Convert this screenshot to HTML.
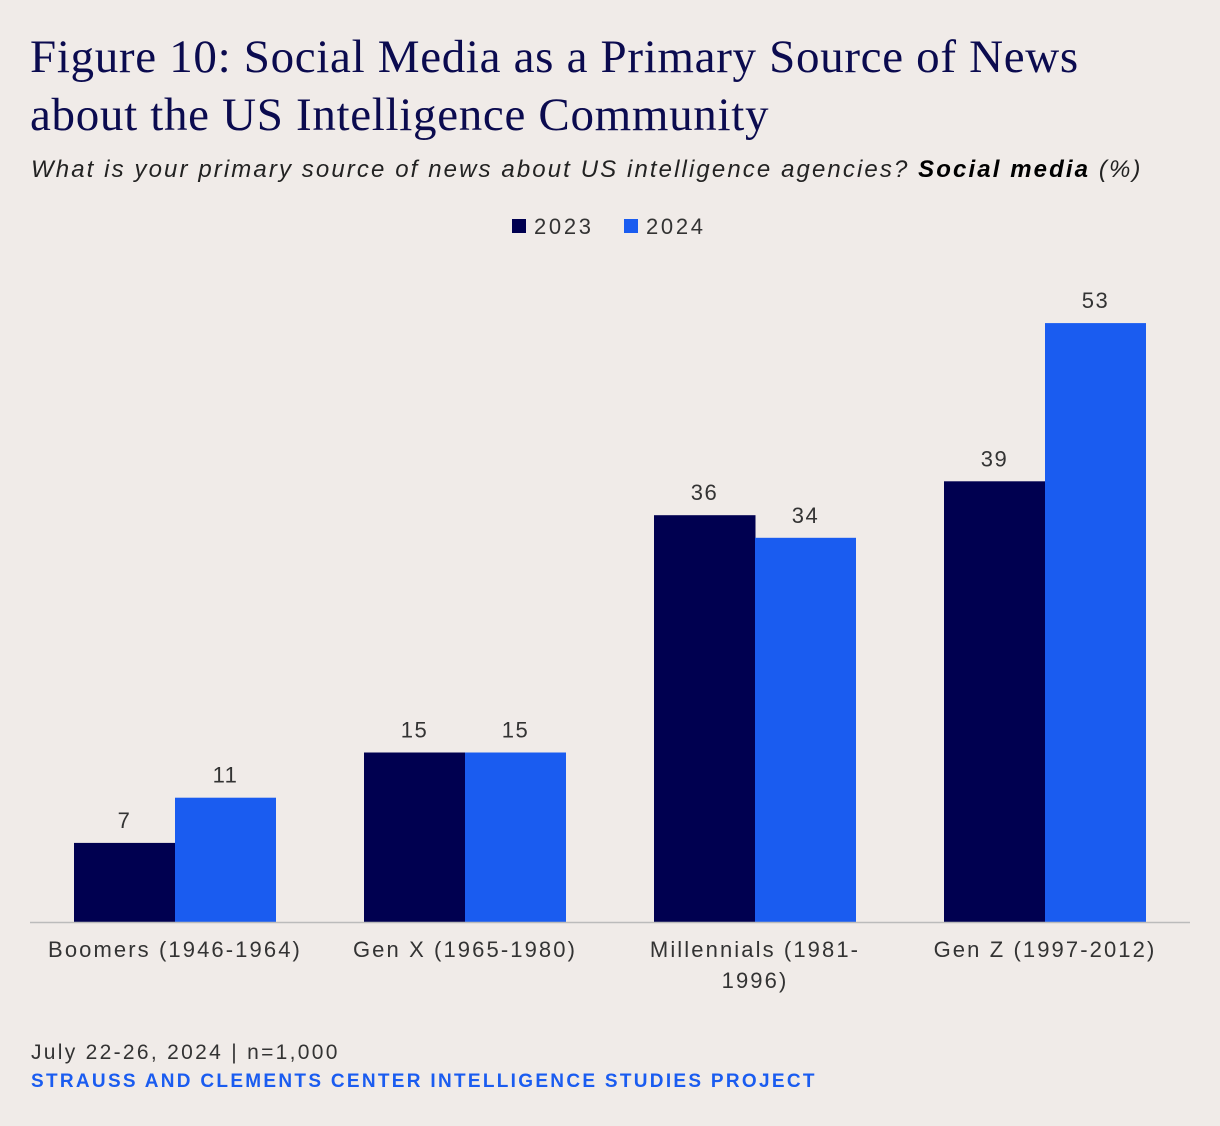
<!DOCTYPE html>
<html><head><meta charset="utf-8"><style>
body{margin:0;background:#f0ebe8;width:1220px;height:1126px;overflow:hidden;font-family:"Liberation Sans",sans-serif;}
.t{position:absolute;white-space:nowrap}
</style></head><body>
<div class="t" style="left:30px;top:28px;font-family:'Liberation Serif',serif;font-size:47px;letter-spacing:0.68px;line-height:58px;color:#0b0b4f;">Figure 10: Social Media as a Primary Source of News<br>about the US Intelligence Community</div>
<div class="t" style="left:31px;top:156px;font-size:24px;letter-spacing:2.1px;font-style:italic;color:#222;">What is your primary source of news about US intelligence agencies? <b style="color:#000">Social media</b> (%)</div>
<svg id="c" width="1220" height="1126" style="position:absolute;left:0;top:0"></svg>
<div class="t" style="left:31px;top:1041px;font-size:21px;letter-spacing:2.3px;color:#333;">July 22-26, 2024 | n=1,000</div>
<div class="t" style="left:31px;top:1071px;font-size:19px;font-weight:bold;color:#1a5cf0;letter-spacing:2.3px;">STRAUSS AND CLEMENTS CENTER INTELLIGENCE STUDIES PROJECT</div>
<script>
const categories=["Boomers (1946-1964)","Gen X (1965-1980)","Millennials (1981-|1996)","Gen Z (1997-2012)"];
const series2023=[7,15,36,39];
const series2024=[11,15,34,53];
const seriesNames=["2023","2024"];
const colors=["#000050","#1a5cf0"];
const svg=document.getElementById('c');const NS="http://www.w3.org/2000/svg";
const base=922,scale=11.3,x0=74,step=290,bw=101;
const y=v=>base-v*scale;
function el(t,a){const e=document.createElementNS(NS,t);for(const k in a)e.setAttribute(k,a[k]);svg.appendChild(e);return e;}
[series2023,series2024].forEach((s,si)=>{s.forEach((v,i)=>{
const x=x0+i*step+si*bw;
const r=el('rect',{x:x,y:y(v),width:bw+(si==0?0.5:0),height:v*scale,fill:colors[si]});


const t=el('text',{x:x+bw/2,y:y(v)-15,'text-anchor':'middle','font-size':22,'letter-spacing':1.5,fill:'#333','font-family':'Liberation Sans, sans-serif'});
t.textContent=v;


});});
const ax=el('line',{x1:30,x2:1190,y1:base+0.5,y2:base+0.5,stroke:'#bbb','stroke-width':1.5});


categories.forEach((c,i)=>{c.split('|').forEach((ln,j)=>{
const t=el('text',{x:x0+i*step+bw,y:957+j*31,'text-anchor':'middle','font-size':22,'letter-spacing':2.1,fill:'#333','font-family':'Liberation Sans, sans-serif'});
t.textContent=ln;


});});
const lx=[512,624];
seriesNames.forEach((n,i)=>{
const r=el('rect',{x:lx[i],y:219,width:14,height:14,fill:colors[i]});


const t=el('text',{x:lx[i]+22,y:234,'font-size':22,'letter-spacing':2.7,fill:'#333','font-family':'Liberation Sans, sans-serif'});
t.textContent=n;


});
</script>
</body></html>
